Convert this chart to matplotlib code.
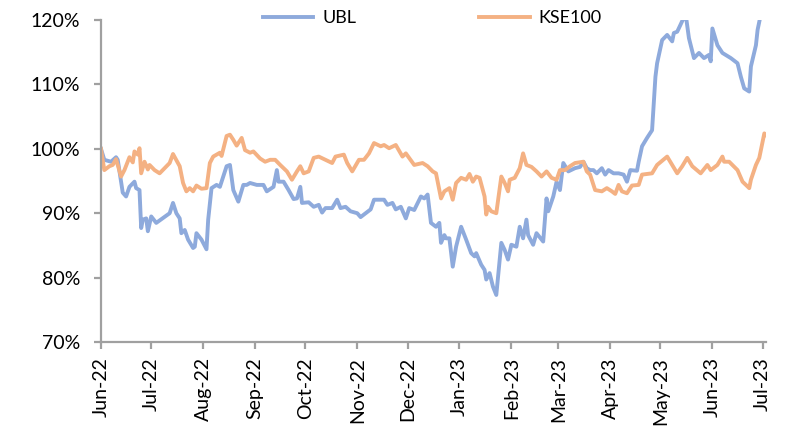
import matplotlib
matplotlib.use("Agg")
import matplotlib.pyplot as plt
import matplotlib.dates as mdates
import numpy as np
import pandas as pd

start = pd.Timestamp("2022-06-01")

# day offsets from 1 Jun 2022 and rebased values (%)
ubl_days = [0, 2, 6, 9, 10, 13, 15, 17, 20, 21, 23, 24, 25, 27, 28, 30, 33, 41, 43, 45,
            47, 48, 50, 52, 55, 56, 57, 60, 63, 64, 66, 69, 71, 73, 75, 77, 79, 82, 85, 87,
            89, 93, 97, 99, 103, 105, 106, 109, 112, 115, 117, 119, 120, 124, 127, 130, 132, 134, 138, 141,
            143, 146, 149, 153, 155, 158, 161, 163, 169, 171, 174, 176, 179, 182, 184, 187, 191, 193, 195, 197,
            200, 202, 203, 205, 206, 208, 210, 212, 215, 218, 221, 223, 224, 227, 229, 230, 232, 234, 236, 239,
            241, 243, 245, 248, 250, 252, 254, 255, 258, 260, 264, 266, 267, 270, 272, 274, 276, 279, 283, 286,
            288, 290, 292, 294, 296, 299, 301, 303, 306, 309, 312, 314, 316, 320, 321, 323, 326, 329, 331, 332,
            335, 338, 341, 342, 344, 346, 349, 351, 354, 357, 360, 363, 364, 365, 368, 371, 376, 380, 382, 384,
            387, 388, 391, 392, 394, 396]
ubl_vals = [100.0, 98.3, 98.0, 98.7, 98.3, 93.2, 92.6, 94.1, 94.9, 93.9, 93.6, 87.7, 89.0, 89.2, 87.2, 89.5, 88.5, 90.0, 91.6, 90.0,
            89.2, 86.9, 87.4, 85.9, 84.6, 84.8, 86.9, 85.9, 84.4, 89.0, 93.9, 94.4, 94.1, 95.7, 97.3, 97.5, 93.6, 91.8, 94.4, 94.4,
            94.7, 94.4, 94.4, 93.4, 94.1, 96.7, 94.9, 94.9, 93.6, 92.2, 92.3, 94.1, 91.6, 91.7, 91.0, 91.3, 90.1, 90.8, 90.8, 92.1,
            90.8, 91.0, 90.3, 90.0, 89.4, 90.0, 90.6, 92.1, 92.1, 91.3, 91.6, 90.6, 91.0, 89.2, 90.8, 90.5, 92.6, 92.3, 92.9, 88.5,
            87.9, 88.5, 85.4, 86.6, 86.1, 86.1, 81.7, 84.8, 87.9, 85.9, 83.8, 83.3, 83.8, 82.0, 81.2, 79.7, 80.7, 78.6, 77.3, 85.4,
            84.3, 82.8, 85.1, 84.8, 87.9, 86.1, 89.0, 86.6, 85.1, 86.9, 85.6, 92.3, 90.3, 92.6, 94.9, 93.6, 97.8, 96.5, 97.0, 97.2,
            98.0, 97.0, 96.7, 96.7, 96.2, 97.0, 96.0, 96.7, 96.2, 96.2, 96.0, 94.9, 96.7, 96.6, 98.0, 100.4, 101.7, 102.9, 111.2, 113.3,
            116.9, 117.7, 116.7, 118.0, 118.2, 119.3, 121.0, 117.2, 114.1, 114.9, 114.1, 114.6, 113.6, 118.7, 116.1, 114.9, 114.1, 113.3, 111.2, 109.4,
            108.9, 112.8, 116.1, 118.5, 121.0, 122.5]

kse_days = [0, 2, 5, 7, 9, 12, 14, 17, 19, 20, 22, 23, 24, 26, 28, 29, 32, 35, 41, 43,
            47, 49, 51, 53, 55, 57, 60, 63, 65, 67, 71, 72, 75, 77, 79, 81, 84, 86, 89, 91,
            95, 98, 101, 104, 107, 111, 114, 117, 119, 121, 124, 127, 130, 134, 138, 140, 145, 147, 150, 154,
            157, 160, 163, 167, 169, 172, 176, 180, 182, 187, 192, 195, 198, 200, 203, 205, 208, 210, 212, 215,
            218, 220, 222, 224, 226, 228, 229, 230, 231, 233, 236, 239, 241, 243, 244, 247, 250, 252, 254, 257,
            260, 263, 266, 269, 272, 274, 277, 280, 283, 288, 290, 292, 295, 299, 302, 305, 307, 309, 311, 314,
            317, 321, 323, 329, 332, 338, 341, 344, 347, 350, 353, 358, 362, 364, 368, 371, 372, 375, 380, 383,
            387, 388, 391, 393, 396, 398]
kse_vals = [100.0, 96.7, 97.3, 97.5, 98.4, 95.7, 96.7, 98.7, 97.9, 99.6, 99.1, 100.1, 96.2, 98.0, 96.8, 97.5, 96.7, 96.2, 97.8, 99.2,
            97.3, 94.7, 93.4, 93.9, 93.4, 94.3, 93.8, 93.9, 97.8, 98.8, 99.4, 98.9, 102.0, 102.2, 101.4, 100.5, 101.7, 99.8, 99.4, 99.6,
            98.5, 98.0, 98.3, 98.3, 97.5, 96.5, 95.2, 96.5, 97.3, 96.2, 96.5, 98.6, 98.8, 98.3, 97.8, 98.8, 99.1, 97.8, 96.5, 98.3,
            98.3, 99.3, 100.9, 100.4, 100.6, 100.1, 100.6, 98.8, 99.3, 97.5, 97.8, 97.3, 96.5, 96.2, 92.3, 93.4, 93.9, 92.1, 94.7, 95.5,
            95.2, 96.1, 94.9, 95.7, 95.5, 93.6, 92.6, 89.8, 91.0, 90.3, 90.0, 95.7, 94.7, 93.4, 95.2, 95.5, 97.0, 99.3, 97.5, 97.2,
            96.5, 95.7, 96.5, 95.5, 95.2, 96.7, 96.7, 97.3, 97.8, 98.0, 96.5, 96.0, 93.6, 93.4, 93.9, 93.4, 93.0, 94.4, 93.4, 93.1,
            94.3, 94.4, 96.0, 96.2, 97.5, 98.8, 97.5, 96.2, 97.3, 98.6, 97.3, 96.2, 97.5, 96.7, 97.5, 98.8, 98.0, 98.0, 96.7, 94.9,
            93.9, 95.2, 97.5, 98.6, 102.4, 101.9]

ubl_dates = start + pd.to_timedelta(ubl_days, unit="D")
kse_dates = start + pd.to_timedelta(kse_days, unit="D")

blue = "#8eaadc"
orange = "#f4b183"
axis_grey = "#a0a0a0"

fig = plt.figure(figsize=(8.11, 4.28), dpi=100)
ax = fig.add_axes([0.1245, 0.201, 0.82, 0.752])

ax.plot(ubl_dates, np.array(ubl_vals) / 100, color=blue, lw=2.8, label="UBL")
ax.plot(kse_dates, np.array(kse_vals) / 100, color=orange, lw=2.8, label="KSE100")

ax.set_ylim(0.7, 1.2)
ax.set_yticks(np.arange(0.7, 1.201, 0.1))
ax.yaxis.set_major_formatter(matplotlib.ticker.FuncFormatter(lambda v, p: f"{v:.0%}"))
ax.set_xlim(start, start + pd.Timedelta(days=397))
ax.xaxis.set_major_locator(mdates.MonthLocator())
ax.xaxis.set_major_formatter(mdates.DateFormatter("%b-%y"))

for s in ["top", "right"]:
    ax.spines[s].set_visible(False)
for s in ["left", "bottom"]:
    ax.spines[s].set_color(axis_grey)
    ax.spines[s].set_linewidth(1.6)
ax.tick_params(axis="both", colors=axis_grey, length=5, width=1.6, labelcolor="black")
ax.tick_params(axis="y", labelsize=14, pad=10)
ax.tick_params(axis="x", labelsize=14, labelrotation=90, pad=6)
for lab in ax.get_xticklabels() + ax.get_yticklabels():
    lab.set_family("Lato")

fig.legend(loc="center", bbox_to_anchor=(0.533, 0.957), ncol=2, frameon=False,
           handlelength=2.8, handletextpad=0.5, columnspacing=6.8,
           prop={"family": "Lato", "size": 13})

fig.savefig("out.png", dpi=100)
